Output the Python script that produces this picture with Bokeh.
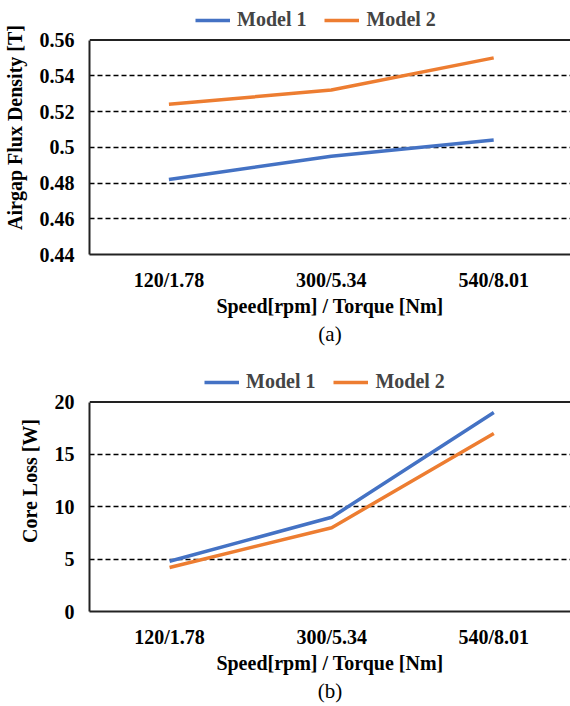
from bokeh.plotting import figure
from bokeh.models import (Range1d, FixedTicker, NumeralTickFormatter, Legend, LegendItem,
                          Span, Title, ColumnDataSource)
from bokeh.layouts import column
from bokeh.embed import file_html
from bokeh.resources import INLINE

# ---- data ----
categories = ["120/1.78", "300/5.34", "540/8.01"]
flux_model1 = [0.482, 0.495, 0.504]
flux_model2 = [0.524, 0.532, 0.550]
loss_model1 = [4.8, 9.0, 19.0]
loss_model2 = [4.2, 8.0, 17.0]
flux_ticks = [0.44, 0.46, 0.48, 0.50, 0.52, 0.54, 0.56]
loss_ticks = [0, 5, 10, 15, 20]

BLUE = "#4472C4"
ORANGE = "#ED7D31"
FONT = "Liberation Serif"
AX = "#222222"


def make(y1, y2, yticks, ylabel, caption, height, left, bottom, frame_top,
         leg_xy, fmt=None, x0=-0.489):
    idx = list(range(len(categories)))
    frame_h = height - bottom
    # extend the range upward so that the legend can sit above the plotted box
    plot_h = frame_h - frame_top
    y_end = yticks[-1] + frame_top * (yticks[-1] - yticks[0]) / plot_h
    p = figure(width=570, height=height, output_backend="svg", toolbar_location=None,
               x_range=Range1d(x0, 2.473), y_range=Range1d(yticks[0], y_end),
               min_border_left=left, min_border_right=0, min_border_top=0,
               min_border_bottom=bottom)
    p.outline_line_color = None
    p.background_fill_color = "white"
    src = ColumnDataSource(dict(x=idx, m1=y1, m2=y2))
    r1 = p.line("x", "m1", source=src, line_color=BLUE, line_width=3.5)
    r2 = p.line("x", "m2", source=src, line_color=ORANGE, line_width=3.5)

    p.xgrid.visible = False
    p.ygrid.ticker = FixedTicker(ticks=yticks[1:-1])
    p.ygrid.grid_line_color = "black"
    p.ygrid.grid_line_width = 1.3
    p.ygrid.grid_line_dash = "5 3"

    p.xaxis.ticker = FixedTicker(ticks=idx)
    p.xaxis.major_label_overrides = {i: c for i, c in zip(idx, categories)}
    p.xaxis.axis_label = "Speed[rpm] / Torque [Nm]"
    p.yaxis.ticker = FixedTicker(ticks=yticks)
    p.yaxis.bounds = (yticks[0], yticks[-1])
    if fmt:
        p.yaxis.formatter = NumeralTickFormatter(format=fmt)
    p.yaxis.axis_label = ylabel
    for ax in (p.xaxis[0], p.yaxis[0]):
        ax.axis_line_color = AX
        ax.axis_line_width = 2
        ax.major_tick_line_color = None
        ax.minor_tick_line_color = None
        ax.major_label_text_font = FONT
        ax.major_label_text_font_style = "bold"
        ax.major_label_text_font_size = "20px"
        ax.major_label_text_color = "black"
        ax.axis_label_text_font = FONT
        ax.axis_label_text_font_style = "bold"
        ax.axis_label_text_font_size = "20px"
        ax.axis_label_text_color = "black"
    p.xaxis.major_label_standoff = 8
    p.xaxis.axis_label_standoff = 1
    p.yaxis.major_label_standoff = 9
    p.yaxis.axis_label_standoff = 11

    p.add_layout(Span(location=yticks[-1], dimension="width", line_color=AX, line_width=2))

    legend = Legend(items=[LegendItem(label="Model 1", renderers=[r1]),
                           LegendItem(label="Model 2", renderers=[r2])],
                    orientation="horizontal", location=leg_xy,
                    label_text_font=FONT, label_text_font_style="bold",
                    label_text_font_size="20px", glyph_width=35, glyph_height=20,
                    label_standoff=7, spacing=18, padding=0, margin=0,
                    border_line_color=None, background_fill_alpha=0)
    p.add_layout(legend)

    p.add_layout(Title(text=caption, align="center", text_font=FONT,
                       text_font_style="normal", text_font_size="21px",
                       text_color="black", standoff=1), "below")
    return p


p1 = make(flux_model1, flux_model2, flux_ticks, "Airgap Flux Density [T]", "(a)",
          350, 85, 96, 39.5, (106, 223), fmt="0.[00]")
p2 = make(loss_model1, loss_model2, loss_ticks, "Core Loss [W]", "(b)",
          356, 84, 95, 51.5, (115, 218), x0=-0.494)

layout = column(p1, p2, spacing=0)
open("out.html", "w").write(file_html(layout, INLINE))
